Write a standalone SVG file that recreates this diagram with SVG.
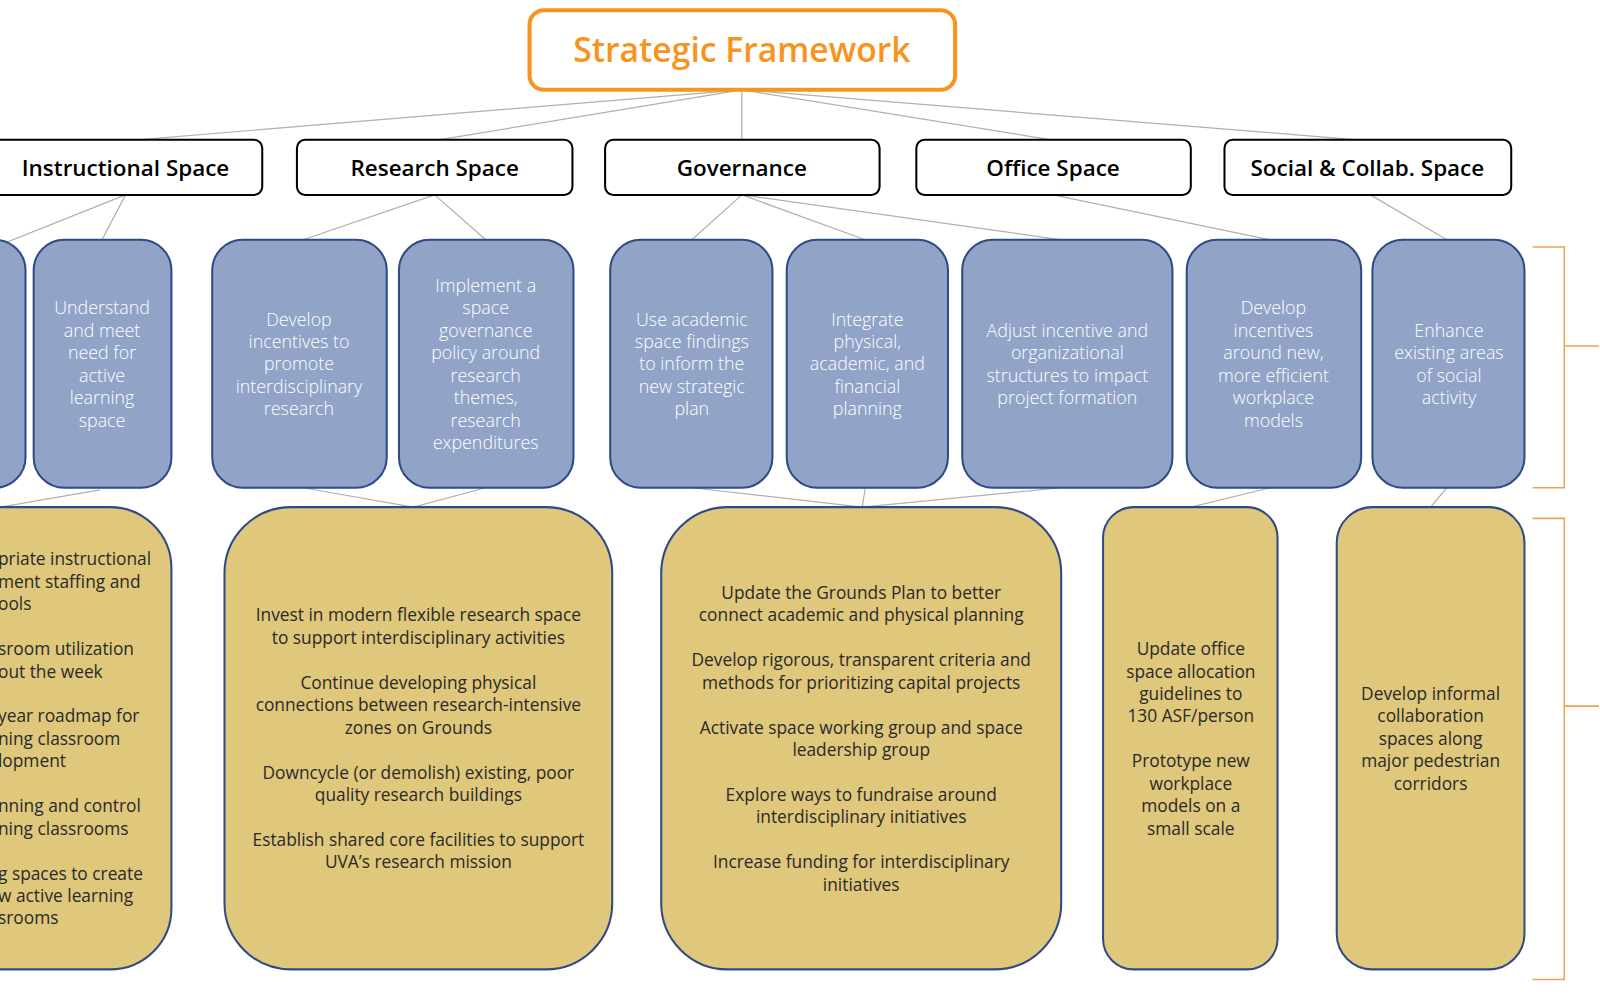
<svg xmlns="http://www.w3.org/2000/svg" width="1600" height="1000" viewBox="0 0 1600 1000">
<style>
.l1{fill:#fff;stroke:#000;stroke-width:2}
.l1t{font-family:"Open Sans","Noto Sans",sans-serif;font-size:22px;font-weight:600;fill:#000;text-anchor:middle}
.b{fill:#91a3c7;stroke:#2f4a86;stroke-width:2}
.bt{font-family:"Open Sans","Noto Sans",sans-serif;font-size:17.5px;font-weight:300;fill:#fff;text-anchor:middle}
.y{fill:#dfc77b;stroke:#2f4a86;stroke-width:2}
.yt{font-family:"Open Sans","Noto Sans",sans-serif;font-size:17px;fill:#2a2a2a;text-anchor:middle}
.c{stroke:#b0b0b0;stroke-width:1.2;fill:none}
.br{stroke:#f0a050;stroke-width:1.5;fill:none}
</style>
<rect width="1600" height="1000" fill="#fff"/>
<g transform="scale(1.0204)">
<g id="connectors">
<path class="c" d="M727 88L135 137M727 88L430 137M727 88V137M727 88L1030 137M727 88L1330 137"/>
<path class="c" d="M123 191L0 240M123 191L100 235M426 191L297 235M426 191L476 235M727 191L678 235M727 191L848 235M727 191L1040 235M1032 191L1245 235M1343 191L1418 235"/>
<path class="c" d="M98 480L0 497M297 478L405 497M476 478L405 497M678 478L845 497M848 478L845 497M1040 478L845 497M1245 478L1167 497M1418 478L1402 497"/>
</g>
<g id="root"><rect x="519" y="10" width="417" height="78" rx="14" fill="#fff" stroke="#f7941d" stroke-width="4"/>
<text x="727" y="61" font-family="Open Sans,Noto Sans,sans-serif" font-size="33" font-weight="600" fill="#f7941d" text-anchor="middle">Strategic Framework</text></g>
<g id="instructional"><rect class="l1" x="-20" y="137" width="277" height="54" rx="8"/><text class="l1t" x="123" y="172">Instructional Space</text></g>
<g id="research"><rect class="l1" x="291" y="137" width="270" height="54" rx="8"/><text class="l1t" x="426" y="172">Research Space</text></g>
<g id="governance"><rect class="l1" x="593" y="137" width="269" height="54" rx="8"/><text class="l1t" x="727" y="172">Governance</text></g>
<g id="office"><rect class="l1" x="898" y="137" width="269" height="54" rx="8"/><text class="l1t" x="1032" y="172">Office Space</text></g>
<g id="social"><rect class="l1" x="1200" y="137" width="281" height="54" rx="8"/><text class="l1t" x="1340" y="172">Social &amp; Collab. Space</text></g>

<g id="b0"><rect class="b" x="-60" y="235" width="85" height="243" rx="30"/></g>
<g id="b1"><rect class="b" x="33" y="235" width="135" height="243" rx="30"/><text class="bt" y="308"><tspan x="100">Understand</tspan><tspan x="100" dy="22">and meet</tspan><tspan x="100" dy="22">need for</tspan><tspan x="100" dy="22">active</tspan><tspan x="100" dy="22">learning</tspan><tspan x="100" dy="22">space</tspan></text></g>
<g id="b2"><rect class="b" x="208" y="235" width="171" height="243" rx="30"/><text class="bt" y="319"><tspan x="293">Develop</tspan><tspan x="293" dy="22">incentives to</tspan><tspan x="293" dy="22">promote</tspan><tspan x="293" dy="22">interdisciplinary</tspan><tspan x="293" dy="22">research</tspan></text></g>
<g id="b3"><rect class="b" x="391" y="235" width="171" height="243" rx="30"/><text class="bt" y="286"><tspan x="476">Implement a</tspan><tspan x="476" dy="22">space</tspan><tspan x="476" dy="22">governance</tspan><tspan x="476" dy="22">policy around</tspan><tspan x="476" dy="22">research</tspan><tspan x="476" dy="22">themes,</tspan><tspan x="476" dy="22">research</tspan><tspan x="476" dy="22">expenditures</tspan></text></g>
<g id="b4"><rect class="b" x="598" y="235" width="159" height="243" rx="30"/><text class="bt" y="319"><tspan x="678">Use academic</tspan><tspan x="678" dy="22">space findings</tspan><tspan x="678" dy="22">to inform the</tspan><tspan x="678" dy="22">new strategic</tspan><tspan x="678" dy="22">plan</tspan></text></g>
<g id="b5"><rect class="b" x="771" y="235" width="158" height="243" rx="30"/><text class="bt" y="319"><tspan x="850">Integrate</tspan><tspan x="850" dy="22">physical,</tspan><tspan x="850" dy="22">academic, and</tspan><tspan x="850" dy="22">financial</tspan><tspan x="850" dy="22">planning</tspan></text></g>
<g id="b6"><rect class="b" x="943" y="235" width="206" height="243" rx="30"/><text class="bt" y="330"><tspan x="1046">Adjust incentive and</tspan><tspan x="1046" dy="22">organizational</tspan><tspan x="1046" dy="22">structures to impact</tspan><tspan x="1046" dy="22">project formation</tspan></text></g>
<g id="b7"><rect class="b" x="1163" y="235" width="171" height="243" rx="30"/><text class="bt" y="308"><tspan x="1248">Develop</tspan><tspan x="1248" dy="22">incentives</tspan><tspan x="1248" dy="22">around new,</tspan><tspan x="1248" dy="22">more efficient</tspan><tspan x="1248" dy="22">workplace</tspan><tspan x="1248" dy="22">models</tspan></text></g>
<g id="b8"><rect class="b" x="1345" y="235" width="149" height="243" rx="30"/><text class="bt" y="330"><tspan x="1420">Enhance</tspan><tspan x="1420" dy="22">existing areas</tspan><tspan x="1420" dy="22">of social</tspan><tspan x="1420" dy="22">activity</tspan></text></g>

<g id="y0"><rect class="y" x="-100" y="497" width="268" height="453" rx="60"/><text class="yt" style="text-anchor:start" y="554"><tspan x="-2">priate instructional</tspan><tspan x="-2" dy="22">ment staffing and</tspan><tspan x="-2" dy="22">ools</tspan><tspan x="-2" dy="44">sroom utilization</tspan><tspan x="-2" dy="22">out the week</tspan><tspan x="-2" dy="44">year roadmap for</tspan><tspan x="-2" dy="22">ning classroom</tspan><tspan x="-2" dy="22">lopment</tspan><tspan x="-2" dy="44">nning and control</tspan><tspan x="-2" dy="22">ning classrooms</tspan><tspan x="-2" dy="44">g spaces to create</tspan><tspan x="-2" dy="22">w active learning</tspan><tspan x="-2" dy="22">srooms</tspan></text></g>
<g id="y1"><rect class="y" x="220" y="497" width="380" height="453" rx="65"/><text class="yt" y="609"><tspan x="410">Invest in modern flexible research space</tspan><tspan x="410" dy="22">to support interdisciplinary activities</tspan><tspan x="410" dy="44">Continue developing physical</tspan><tspan x="410" dy="22">connections between research-intensive</tspan><tspan x="410" dy="22">zones on Grounds</tspan><tspan x="410" dy="44">Downcycle (or demolish) existing, poor</tspan><tspan x="410" dy="22">quality research buildings</tspan><tspan x="410" dy="44">Establish shared core facilities to support</tspan><tspan x="410" dy="22">UVA’s research mission</tspan></text></g>
<g id="y2"><rect class="y" x="648" y="497" width="392" height="453" rx="65"/><text class="yt" y="587"><tspan x="844">Update the Grounds Plan to better</tspan><tspan x="844" dy="22">connect academic and physical planning</tspan><tspan x="844" dy="44">Develop rigorous, transparent criteria and</tspan><tspan x="844" dy="22">methods for prioritizing capital projects</tspan><tspan x="844" dy="44">Activate space working group and space</tspan><tspan x="844" dy="22">leadership group</tspan><tspan x="844" dy="44">Explore ways to fundraise around</tspan><tspan x="844" dy="22">interdisciplinary initiatives</tspan><tspan x="844" dy="44">Increase funding for interdisciplinary</tspan><tspan x="844" dy="22">initiatives</tspan></text></g>
<g id="y3"><rect class="y" x="1081" y="497" width="171" height="453" rx="30"/><text class="yt" y="642"><tspan x="1167">Update office</tspan><tspan x="1167" dy="22">space allocation</tspan><tspan x="1167" dy="22">guidelines to</tspan><tspan x="1167" dy="22">130 ASF/person</tspan><tspan x="1167" dy="44">Prototype new</tspan><tspan x="1167" dy="22">workplace</tspan><tspan x="1167" dy="22">models on a</tspan><tspan x="1167" dy="22">small scale</tspan></text></g>
<g id="y4"><rect class="y" x="1310" y="497" width="184" height="453" rx="35"/><text class="yt" y="686"><tspan x="1402">Develop informal</tspan><tspan x="1402" dy="22">collaboration</tspan><tspan x="1402" dy="22">spaces along</tspan><tspan x="1402" dy="22">major pedestrian</tspan><tspan x="1402" dy="22">corridors</tspan></text></g>
<g id="brackets"><path class="br" d="M1502 242H1533V478H1502M1533 339H1567"/><path class="br" d="M1502 508H1533V960H1502M1533 692H1567"/></g>
</g>
</svg>
